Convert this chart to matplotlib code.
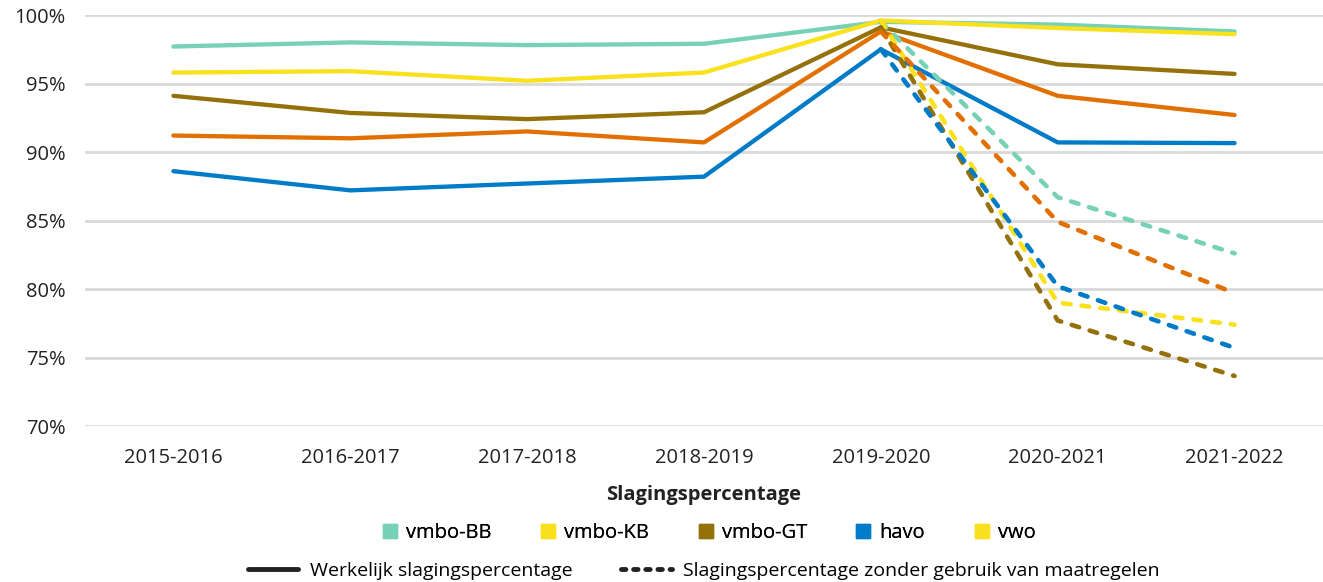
import matplotlib.pyplot as plt
from matplotlib.lines import Line2D
from matplotlib.ticker import FuncFormatter

plt.rcParams['font.family'] = ['Open Sans', 'DejaVu Sans']

years = ["2015-2016", "2016-2017", "2017-2018", "2018-2019",
         "2019-2020", "2020-2021", "2021-2022"]

# werkelijk slagingspercentage
bb = [97.7, 98.0, 97.8, 97.9, 99.5, 99.3, 98.8]
kb = [95.8, 95.9, 95.2, 95.8, 99.6, 99.05, 98.6]
gt = [94.1, 92.85, 92.4, 92.9, 99.1, 96.4, 95.7]
havo = [88.6, 87.2, 87.7, 88.2, 97.5, 90.7, 90.65]
vwo = [91.2, 91.0, 91.5, 90.7, 98.8, 94.1, 92.7]

# zonder gebruik van maatregelen (vanaf 2019-2020)
bb_z = [99.5, 86.7, 82.6]
kb_z = [99.6, 79.0, 77.4]
gt_z = [99.1, 77.7, 73.65]
havo_z = [97.5, 80.2, 75.7]
vwo_z = [98.8, 84.9, 79.7]

names = ["vmbo-BB", "vmbo-KB", "vmbo-GT", "havo", "vwo"]
colors = ["#76d1b6", "#f9e11e", "#94710a", "#007bc7", "#e17000"]
legend_colors = ["#76d1b6", "#f9e11e", "#94710a", "#007bc7", "#f9e11e"]

fig = plt.figure(figsize=(13.23, 5.82), dpi=100)
ax = fig.add_axes([85 / 1323, 1 - 426 / 582, 1 - 85 / 1323, (426 - 15) / 582])

x = list(range(len(years)))
actual = [bb, kb, gt, havo, vwo]
without = [bb_z, kb_z, gt_z, havo_z, vwo_z]

for vals, c in zip(actual, colors):
    ax.plot(x, vals, color=c, lw=3.1, solid_capstyle="round",
            solid_joinstyle="round", zorder=3)
for vals, c in zip(without, colors):
    ax.plot(x[4:], vals, color=c, lw=3.3, linestyle=(0, (1.7, 2.4)),
            dash_capstyle="round", zorder=4)

ax.set_xlim(-0.5, 6.5)
ax.set_ylim(70, 100)
ax.set_yticks([70, 75, 80, 85, 90, 95, 100])
ax.yaxis.set_major_formatter(FuncFormatter(lambda v, p: f"{v:.0f}%"))
ax.set_xticks(x)
ax.set_xticklabels(years)
ax.tick_params(axis="both", length=0, labelsize=14.5, colors="#222222")
ax.tick_params(axis="y", pad=14)
ax.tick_params(axis="x", pad=16)
ax.grid(axis="y", color="#d9d9d9", lw=2)
ax.set_axisbelow(True)
for s in ax.spines.values():
    s.set_visible(False)

fig.text(0.532, 1 - 495 / 582, "Slagingspercentage", ha="center", va="center",
         fontsize=14.5, fontweight="bold", color="#222222")

handles1 = [Line2D([], [], marker="s", linestyle="none", markersize=10,
                   markerfacecolor=c, markeredgecolor=c) for c in legend_colors]
leg1 = fig.legend(handles1, names, loc="center", bbox_to_anchor=(0.535, 1 - 533 / 582),
                  ncol=5, frameon=False, fontsize=14.5, handletextpad=0.3,
                  columnspacing=2.3, handlelength=1.0)
fig.add_artist(leg1)

handles2 = [Line2D([], [], color="#222222", lw=3.5, solid_capstyle="round"),
            Line2D([], [], color="#222222", lw=3.5, linestyle=(0, (0.9, 1.6)),
                   dash_capstyle="round")]
fig.legend(handles2, ["Werkelijk slagingspercentage",
                      "Slagingspercentage zonder gebruik van maatregelen"],
           loc="center", bbox_to_anchor=(0.532, 1 - 571 / 582), ncol=2,
           frameon=False, fontsize=14, handletextpad=0.6, columnspacing=2.5,
           handlelength=2.6)

fig.savefig("out.png", dpi=100)
